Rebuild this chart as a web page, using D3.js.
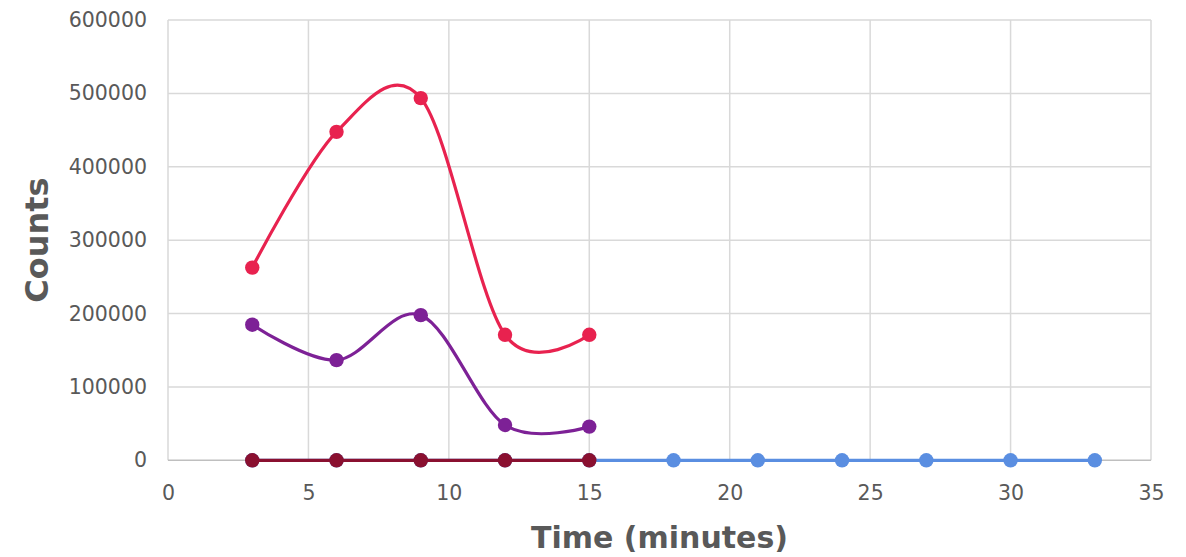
<!DOCTYPE html>
<html><head><meta charset="utf-8">
<script src="https://cdn.jsdelivr.net/npm/d3@7"></script>
<style>body{margin:0;background:#fff}svg{display:block}</style>
</head><body>
<svg id="c" width="1186" height="557"></svg>
<script>
const timesA = [3, 6, 9, 12, 15];
const timesB = [3, 6, 9, 12, 15, 18, 21, 24, 27, 30, 33];
const redVals = [262600, 447600, 493600, 171000, 171000];
const purpleVals = [184800, 136500, 197800, 48100, 45900];
const maroonVals = [0, 0, 0, 0, 0];
const blueVals = [0, 0, 0, 0, 0, 0, 0, 0, 0, 0, 0];
const xTicks = [0, 5, 10, 15, 20, 25, 30, 35];
const yTicks = [0, 100000, 200000, 300000, 400000, 500000, 600000];
const xTitle = "Time (minutes)";
const yTitle = "Counts";

const svg = d3.select("#c");
const x = d3.scaleLinear().domain([0, 35]).range([168, 1151]);
const y = d3.scaleLinear().domain([0, 600000]).range([460.3, 20]);
const font = "'DejaVu Sans', sans-serif";
const grey = "#595959";

// gridlines
svg.append("g").selectAll("line").data(yTicks.slice(1)).join("line")
  .attr("x1", x(0)).attr("x2", x(35)).attr("y1", d => y(d)).attr("y2", d => y(d))
  .attr("stroke", "#d9d9d9").attr("stroke-width", 1.5);
svg.append("g").selectAll("line").data(xTicks).join("line")
  .attr("x1", d => x(d)).attr("x2", d => x(d)).attr("y1", y(0)).attr("y2", y(600000))
  .attr("stroke", "#d9d9d9").attr("stroke-width", 1.5);
svg.append("line").attr("x1", x(0)).attr("x2", x(35)).attr("y1", y(0)).attr("y2", y(0))
  .attr("stroke", "#bfbfbf").attr("stroke-width", 1.5);

// axes labels via d3 axes
const xAxis = svg.append("g").attr("transform", `translate(0,${y(0)})`)
  .call(d3.axisBottom(x).tickValues(xTicks).tickSize(0).tickPadding(25).tickFormat(d3.format("d")));
const yAxis = svg.append("g").attr("transform", `translate(${x(0)},0)`)
  .call(d3.axisLeft(y).tickValues(yTicks).tickSize(0).tickPadding(21).tickFormat(d3.format("d")));
[xAxis, yAxis].forEach(a => {
  a.select(".domain").remove();
  a.selectAll("text").attr("fill", grey).style("font-family", font).style("font-size", "20.5px");
});

const line = d3.line().x(d => x(d[0])).y(d => y(d[1])).curve(d3.curveCardinal.tension(0));
const series = [
  {t: timesB, v: blueVals, c: "#5a8ee1", smooth: false},
  {t: timesA, v: purpleVals, c: "#7d2196", smooth: true},
  {t: timesA, v: redVals, c: "#e8224f", smooth: true},
  {t: timesA, v: maroonVals, c: "#8a1030", smooth: false}
];
series.forEach(s => {
  const pts = s.t.map((t, i) => [t, s.v[i]]);
  const g = svg.append("g");
  g.append("path").attr("d", (s.smooth ? line : d3.line().x(d => x(d[0])).y(d => y(d[1])))(pts))
    .attr("fill", "none").attr("stroke", s.c).attr("stroke-width", 3.2).attr("stroke-linecap", "round");
  g.selectAll("circle").data(pts).join("circle")
    .attr("cx", d => x(d[0])).attr("cy", d => y(d[1])).attr("r", 7.2).attr("fill", s.c);
});

svg.append("text").attr("x", (x(0) + x(35)) / 2).attr("y", 548).attr("text-anchor", "middle")
  .attr("fill", grey).style("font-family", font).style("font-weight", "bold").style("font-size", "30px")
  .text(xTitle);
svg.append("text").attr("transform", `translate(48,${(y(0) + y(600000)) / 2}) rotate(-90)`)
  .attr("text-anchor", "middle")
  .attr("fill", grey).style("font-family", font).style("font-weight", "bold").style("font-size", "32px")
  .text(yTitle);
</script>
</body></html>
